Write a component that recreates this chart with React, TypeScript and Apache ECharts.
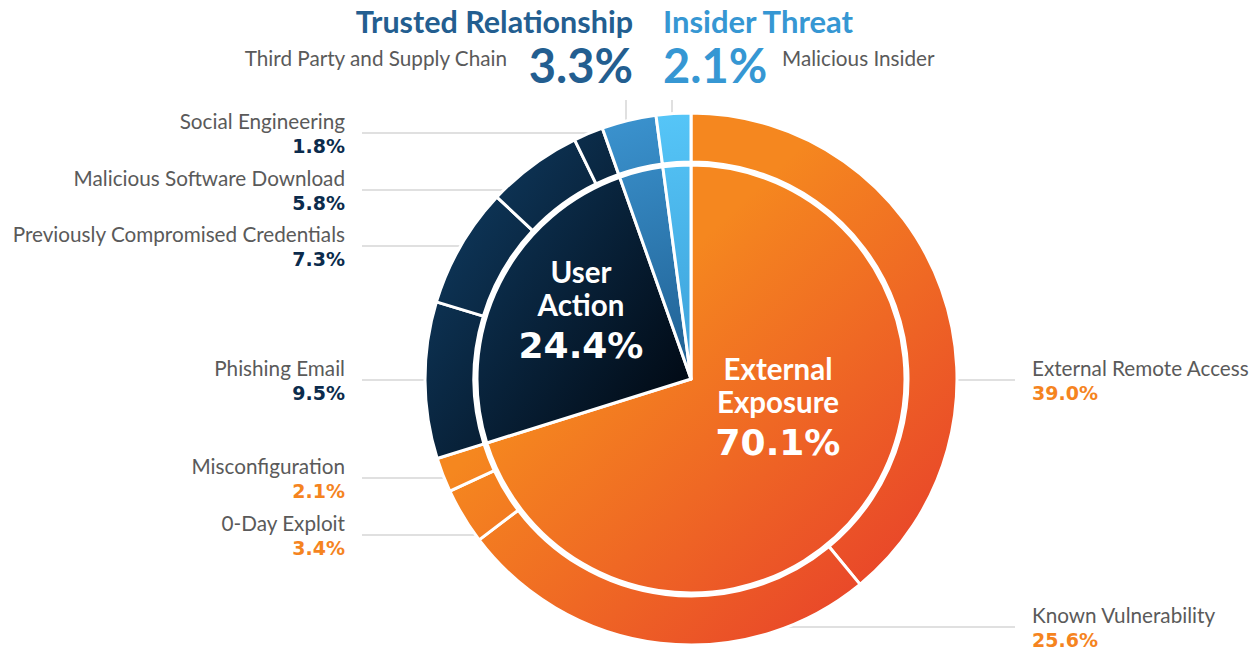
import React, { useEffect, useRef } from 'react';
import * as echarts from 'echarts';

// ---- data ----
const categories = ['External Exposure', 'User Action', 'Trusted Relationship', 'Insider Threat'];
const categoryValues = [70.1, 24.4, 3.3, 2.1];

const subcategories = [
  'External Remote Access',
  'Known Vulnerability',
  '0-Day Exploit',
  'Misconfiguration',
  'Phishing Email',
  'Previously Compromised Credentials',
  'Malicious Software Download',
  'Social Engineering',
  'Third Party and Supply Chain',
  'Malicious Insider',
];
const subValues = [39.0, 25.6, 3.4, 2.1, 9.5, 7.3, 5.8, 1.8, 3.3, 2.1];
const subParent = [0, 0, 0, 0, 1, 1, 1, 1, 2, 3];

// ---- layout / style ----
const CX = 691;
const CY = 379;
const R_OUT = 266;
const R_RING = 217;
const R_IN = 214;
const FONT = 'Lato, "Noto Sans", sans-serif';
const NUM_FONT = '"DejaVu Sans", Lato, sans-serif';

const fills = [
  new echarts.graphic.LinearGradient(690, 250, 960, 540, [
    { offset: 0, color: '#f5871f' },
    { offset: 1, color: '#e8432a' },
  ], true),
  new echarts.graphic.LinearGradient(440, 230, 690, 400, [
    { offset: 0, color: '#0e3659' },
    { offset: 1, color: '#010913' },
  ], true),
  new echarts.graphic.LinearGradient(600, 120, 690, 380, [
    { offset: 0, color: '#3b93cf' },
    { offset: 1, color: '#1f5e90' },
  ], true),
  new echarts.graphic.LinearGradient(660, 110, 690, 380, [
    { offset: 0, color: '#56c6f8' },
    { offset: 1, color: '#3b9fd8' },
  ], true),
];
const valueColors = ['#f5841f', '#0b2b4c', '#235e90', '#3697d3'];

// label placement for the outer ring: side, anchor x, leader-line y (or x for top)
const outerPlace: { side: string; x: number; y: number; lx?: number }[] = [
  { side: 'right', x: 1032, y: 380 },
  { side: 'right', x: 1032, y: 627 },
  { side: 'left', x: 345, y: 535 },
  { side: 'left', x: 345, y: 478 },
  { side: 'left', x: 345, y: 380 },
  { side: 'left', x: 345, y: 246 },
  { side: 'left', x: 345, y: 190 },
  { side: 'left', x: 345, y: 133 },
  { side: 'topL', x: 507, y: 58, lx: 626 },
  { side: 'topR', x: 782, y: 58, lx: 672 },
];
const innerPlace = [
  { x: 778, y: 352, align: 'center' },
  { x: 581, y: 255, align: 'center' },
  { x: 633, y: 4, align: 'right' },
  { x: 663, y: 4, align: 'left' },
];

const edgeX = (y: number, sign: number) => CX + sign * Math.sqrt(Math.max(0, R_OUT * R_OUT - (y - CY) * (y - CY)));
const edgeY = (x: number) => CY - Math.sqrt(Math.max(0, R_OUT * R_OUT - (x - CX) * (x - CX)));

const fmtPct = (v: number) => v.toFixed(1) + '%';

export default function App() {
  const ref = useRef<HTMLDivElement>(null);
  useEffect(() => {
    if (!ref.current) return;
    const chart = echarts.init(ref.current, undefined, { renderer: 'svg' });

    const nameStyle = { fontFamily: FONT, fontSize: 20.7, color: '#5a5a5a', lineHeight: 25 };
    const valStyle = (c: string) => ({ fontFamily: NUM_FONT, fontSize: 19, fontWeight: 'bold', color: c, lineHeight: 25 });

    const option = {
      animation: false,
      backgroundColor: '#ffffff',
      series: [
        {
          type: 'pie',
          silent: true,
          center: [CX, CY],
          radius: [0, R_IN],
          startAngle: 90,
          avoidLabelOverlap: false,
          itemStyle: { borderColor: '#ffffff', borderWidth: 3 },
          data: categories.map((name, i) => ({
            name,
            value: categoryValues[i],
            itemStyle: { color: fills[i] },
          })),
          label: {
            show: true,
            position: 'inside',
            overflow: 'none',
            formatter: (p: any) => {
              const i = p.dataIndex;
              const pct = fmtPct(p.value);
              if (i < 2) {
                return p.name.split(' ').map((w: string) => `{t|${w}}`).join('\n') + `\n{p|${pct}}`;
              }
              if (i === 2) return `{hT|${p.name}}\n{bT|${pct}}`;
              return `{hI|${p.name}}\n{bI|${pct}}`;
            },
            rich: {
              t: { fontFamily: FONT, fontSize: 29.5, fontWeight: 'bold', color: '#ffffff', lineHeight: 33, align: 'center' },
              p: { fontFamily: NUM_FONT, fontSize: 36, fontWeight: 'bold', color: '#ffffff', lineHeight: 48, align: 'center' },
              hT: { fontFamily: FONT, fontSize: 30.5, fontWeight: 'bold', color: valueColors[2], lineHeight: 34, align: 'right' },
              bT: { fontFamily: FONT, fontSize: 47, fontWeight: 'bold', color: valueColors[2], lineHeight: 54, align: 'right' },
              hI: { fontFamily: FONT, fontSize: 31, fontWeight: 'bold', color: valueColors[3], lineHeight: 34, align: 'left' },
              bI: { fontFamily: FONT, fontSize: 47, fontWeight: 'bold', color: valueColors[3], lineHeight: 54, align: 'left' },
            },
          },
          labelLine: { show: false },
          labelLayout: (p: any) => {
            const pl = innerPlace[p.dataIndex];
            return { x: pl.x, y: pl.y, align: pl.align, verticalAlign: 'top' };
          },
        },
        {
          type: 'pie',
          silent: true,
          center: [CX, CY],
          radius: [R_RING, R_OUT],
          startAngle: 90,
          avoidLabelOverlap: false,
          itemStyle: { borderColor: '#ffffff', borderWidth: 3 },
          data: subcategories.map((name, i) => ({
            name,
            value: subValues[i],
            itemStyle: { color: fills[subParent[i]] },
          })),
          label: {
            show: true,
            position: 'outside',
            overflow: 'none',
            formatter: (p: any) => {
              const i = p.dataIndex;
              const pl = outerPlace[i];
              const left = pl.side === 'left' || pl.side === 'topL';
              const sfx = left ? 'L' : 'R';
              if (i >= 8) return `{n${sfx}|${p.name}}`;
              const vk = subParent[i] === 0 ? 'vo' : 'vn';
              return `{n${sfx}|${p.name}}\n{${vk}${sfx}|${fmtPct(p.value)}}`;
            },
            rich: {
              nL: { ...nameStyle, align: 'right' },
              nR: { ...nameStyle, align: 'left' },
              voL: { ...valStyle(valueColors[0]), align: 'right' },
              voR: { ...valStyle(valueColors[0]), align: 'left' },
              vnL: { ...valStyle(valueColors[1]), align: 'right' },
              vnR: { ...valStyle(valueColors[1]), align: 'left' },
            },
          },
          labelLine: { show: true, lineStyle: { color: '#d6d6d6', width: 1.5 } },
          labelLayout: (p: any) => {
            const pl = outerPlace[p.dataIndex];
            if (pl.side === 'left') {
              const ex = edgeX(pl.y, -1);
              return {
                x: pl.x, y: pl.y, align: 'right', verticalAlign: 'middle',
                labelLinePoints: [[ex, pl.y], [(ex + 362) / 2, pl.y], [362, pl.y]],
              };
            }
            if (pl.side === 'right') {
              const ex = edgeX(pl.y, 1);
              return {
                x: pl.x, y: pl.y, align: 'left', verticalAlign: 'middle',
                labelLinePoints: [[ex, pl.y], [(ex + 1015) / 2, pl.y], [1015, pl.y]],
              };
            }
            const lx = pl.lx as number;
            const ey = edgeY(lx);
            return {
              x: pl.x, y: pl.y, align: pl.side === 'topL' ? 'right' : 'left', verticalAlign: 'middle',
              labelLinePoints: [[lx, ey], [lx, (ey + 100) / 2], [lx, 100]],
            };
          },
        },
      ],
    };
    chart.setOption(option as any);
    return () => chart.dispose();
  }, []);

  return (
    <div
      ref={ref}
      style={{ position: 'fixed', left: 0, top: 0, width: 1254, height: 650, background: '#fff' }}
    />
  );
}
